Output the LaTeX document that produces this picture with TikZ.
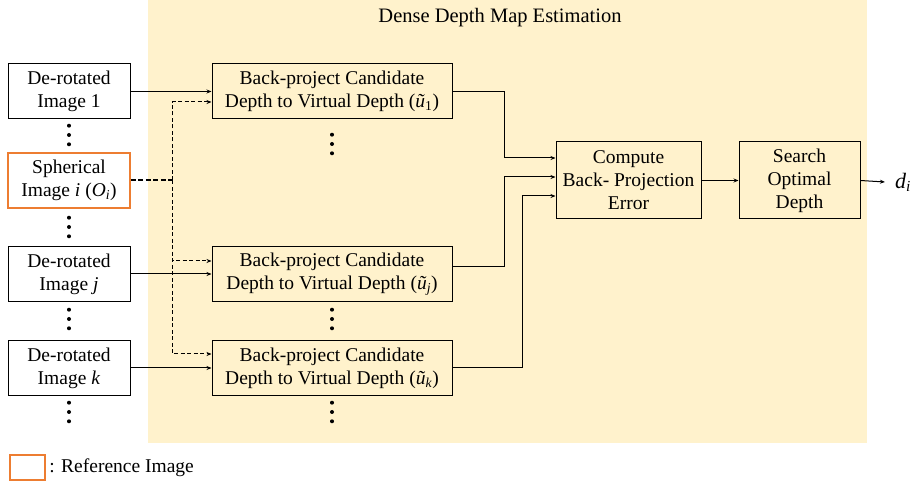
\documentclass[tikz,border=0pt]{standalone}
\usepackage{fontspec}
\setmainfont{Liberation Serif}
\usepackage{amsmath}
\usetikzlibrary{arrows.meta}
\definecolor{paneyellow}{RGB}{255,242,204}
\definecolor{reforange}{RGB}{237,125,49}

\begin{document}
\begin{tikzpicture}[%
x=1pt, y=-1pt,
font=\fontsize{19.5}{23}\selectfont,
imgbox/.style={draw=black, line width=1pt, fill=white, minimum width=122pt, minimum height=55pt, align=center, inner sep=0pt},
refbox/.style={imgbox, draw=reforange, line width=1.5pt},
bpbox/.style={draw=black, line width=1pt, fill=paneyellow, minimum width=240pt, minimum height=55pt, align=center, inner sep=0pt},
procbox/.style={bpbox, minimum width=145pt, minimum height=77pt},
tip/.style={line width=1pt, -{Stealth[length=5pt,width=4pt]}},
dline/.style={line width=1.2pt, dash pattern=on 4pt off 2.5pt},
]
\useasboundingbox (0,0) rectangle (911,486);
%% panel;
\fill [paneyellow] (148,0) rectangle (867,443);
\node [font=\fontsize{20.5}{24}\selectfont] (title) at (500,18) {Dense Depth Map Estimation};
%% input images;
\node [imgbox] (img1) at (69,91.5) {De-rotated\\Image 1};
\node [refbox] (sph) at (69,180.5) {Spherical\\Image \textit{i} (\textit{O}\textsubscript{\textit{i}})};
\node [imgbox] (imgj) at (69,274) {De-rotated\\Image \textit{j}};
\node [imgbox] (imgk) at (69,368) {De-rotated\\Image \textit{k}};
%% back-projection;
\node [bpbox] (bp1) at (332,91.5) {Back-project Candidate\\Depth to Virtual Depth (\textit{ũ}\textsubscript{1})};
\node [bpbox] (bpj) at (332,274) {Back-project Candidate\\Depth to Virtual Depth (\textit{ũ}\textsubscript{\textit{j}})};
\node [bpbox] (bpk) at (332,368) {Back-project Candidate\\Depth to Virtual Depth (\textit{ũ}\textsubscript{\textit{k}})};
%% error and search;
\node [procbox] (cmp) at (628.5,180.5) {Compute\\Back- Projection\\Error};
\node [procbox, minimum width=121pt] (srch) at (799.5,180.5) {Search\\Optimal\\Depth};
\node [inner sep=0pt, font=\fontsize{22}{24}\selectfont] (di) at (903,182) {\textit{d}\textsubscript{\textit{i}}};
%% dots;
\foreach \x/\y in {69/135, 69/227, 69/319, 69/412, 332/144, 332/319, 332/412}
  \foreach \d in {-9.3,0,9.3}
    \fill (\x,\y+\d) circle (2pt);
%% solid inputs;
\draw [tip] (img1.east) -- (bp1.west);
\draw [tip] (imgj.east) -- (bpj.west);
\draw [tip] (imgk.east) -- (bpk.west);
%% reference image (dashed);
\coordinate (split) at (172,180.5);
\draw [dline, line width=2pt, dash pattern=on 5pt off 2.5pt] (sph.east) -- (split);
\draw [dline, tip] (split) |- ([yshift=-10.5pt]bp1.west);
\draw [dline, tip] (split) |- ([yshift=13pt]bpj.west);
\draw [dline, tip] (split) |- ([yshift=14pt]bpk.west);
%% to error;
\coordinate (c1) at ([yshift=22.5pt]cmp.west);
\coordinate (c2) at ([yshift=3.5pt]cmp.west);
\coordinate (c3) at ([yshift=-15.5pt]cmp.west);
\draw [tip] (bp1.east) -- ++(52,0) |- (c1);
\draw [tip] ([yshift=7pt]bpj.east) -- ++(52,0) |- (c2);
\draw [tip] (bpk.east) -- ++(70,0) |- (c3);
\draw [tip] (cmp.east) -- (srch.west);
\draw [tip] (srch.east) -- ([xshift=-10pt]di.west);
%% legend;
\node [refbox, minimum width=35pt, minimum height=25pt] (legend) at (27.5,467.5) {};
\node [anchor=west] (legtext) at (legend.east) {: Reference Image};
\end{tikzpicture}
\end{document}
